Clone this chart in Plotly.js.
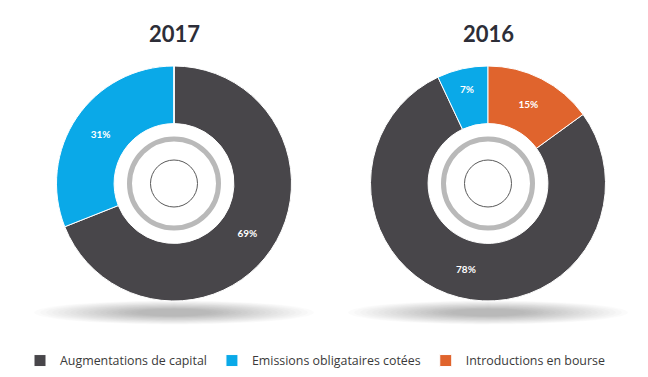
<!DOCTYPE html>
<html>
<head>
<meta charset="utf-8">
<script src="https://cdn.plot.ly/plotly-3.0.1.min.js"></script>
<style>
html,body{margin:0;padding:0;background:#fff;}
#chart{width:648px;height:377px;}
</style>
</head>
<body>
<div id="chart"></div>
<script>
// ---- data ----
var categories = ["Augmentations de capital", "Emissions obligataires cotées", "Introductions en bourse"];
var values2017 = [69, 31, 0];
var values2016 = [78, 7, 15];
var years = ["2017", "2016"];
var colors = ["#48464a", "#0aa9e8", "#e0642d"];

var W = 648, H = 377;
// geometry in pixels
var centers = [{x: 174, y: 183.5}, {x: 488, y: 183.5}];
var R = 117.5;
function px(x){ return x / W; }
function py(y){ return 1 - y / H; }

function pieTrace(values, c, rotation){
  return {
    type: "pie",
    labels: categories,
    values: values,
    sort: false,
    direction: "clockwise",
    rotation: rotation,
    hole: 0.51,
    marker: {colors: colors, line: {color: "#ffffff", width: 1}},
    textinfo: "percent",
    textposition: "inside",
    insidetextorientation: "horizontal",
    textfont: {color: "#ffffff", size: 10, family: "Lato, 'Open Sans', sans-serif", weight: 700},
    hoverinfo: "label+percent",
    domain: {x: [px(c.x - R), px(c.x + R)], y: [py(c.y + R), py(c.y - R)]}
  };
}

// rotation so that the 2016 orange slice starts at 12 o'clock
var rot2016 = 360 * values2016[2] / (values2016[0] + values2016[1] + values2016[2]);
var traces = [
  pieTrace(values2017, centers[0], 0),
  pieTrace(values2016, centers[1], rot2016)
];

var shapes = [];
centers.forEach(function(c){
  // soft shadow under the donut
  var n = 18;
  for (var i = 0; i < n; i++) {
    var rx = 140 - i * 6, ry = 12 - i * 0.5, sy = c.y + 129;
    shapes.push({type: "circle", xref: "paper", yref: "paper", layer: "below",
      x0: px(c.x - rx), x1: px(c.x + rx), y0: py(sy + ry), y1: py(sy - ry),
      fillcolor: "rgba(0,0,0,0.016)", line: {width: 0}});
  }
  // grey ring in the hole
  var r1 = 44.5;
  shapes.push({type: "circle", xref: "paper", yref: "paper", layer: "above",
    x0: px(c.x - r1), x1: px(c.x + r1), y0: py(c.y + r1), y1: py(c.y - r1),
    line: {color: "#b9b9b9", width: 5}});
  // thin inner circle
  var r2 = 23.5;
  shapes.push({type: "circle", xref: "paper", yref: "paper", layer: "above",
    x0: px(c.x - r2), x1: px(c.x + r2), y0: py(c.y + r2), y1: py(c.y - r2),
    line: {color: "#5a5a5a", width: 1}});
});

var annotations = years.map(function(y, i){
  return {text: y, xref: "paper", yref: "paper", x: px(centers[i].x), y: py(34),
    xanchor: "center", yanchor: "middle", showarrow: false,
    font: {size: 22, color: "#2d2e38", family: "Lato, 'Open Sans', sans-serif", weight: 700}};
});

var layout = {
  width: W, height: H,
  margin: {l: 0, r: 0, t: 0, b: 0},
  paper_bgcolor: "#ffffff",
  showlegend: true,
  legend: {orientation: "h", x: px(20), xanchor: "left", y: py(361), yanchor: "middle",
    font: {size: 12.4, color: "#3a3a3a", family: "'Open Sans', sans-serif"},
    itemclick: false, itemdoubleclick: false},
  shapes: shapes,
  annotations: annotations
};

Plotly.newPlot("chart", traces, layout, {displayModeBar: false, staticPlot: true});
</script>
</body>
</html>
